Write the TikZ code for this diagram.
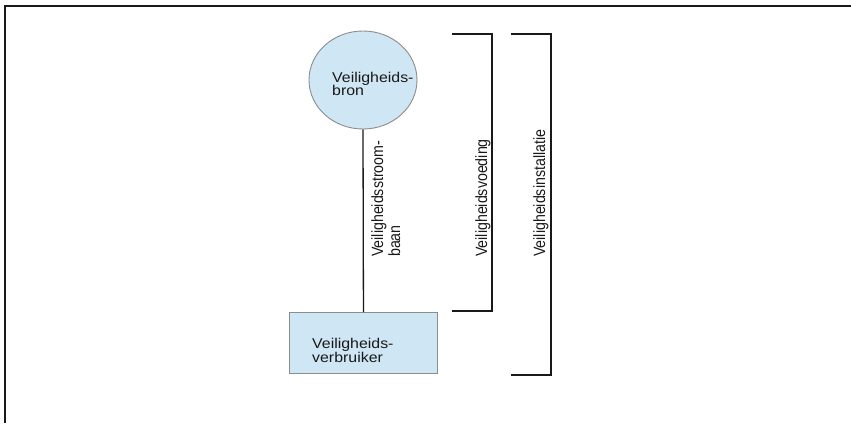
\documentclass[tikz,border=0pt]{standalone}
\usepackage{fontspec}
\setmainfont{Liberation Sans}
\usetikzlibrary{shapes.geometric}
\definecolor{shapefill}{RGB}{207,230,244}
\definecolor{shapeline}{RGB}{140,140,140}
\definecolor{txt}{RGB}{25,25,25}
\tikzset{
  lbl/.style={inner sep=0pt, font=\fontsize{14.2}{14.2}\selectfont, text=txt},
  vlbl/.style={lbl, rotate=90, anchor=base west},
  hlbl/.style={lbl, anchor=base west},
  wire/.style={line width=1.3pt, draw=black!90},
  frame/.style={line width=2pt, draw=black!90},
  blueshape/.style={draw=shapeline, fill=shapefill, line width=0.9pt, inner sep=0pt}
}
\newcommand{\hstretch}[1]{\scalebox{1.12}[1]{#1}}
\newcommand{\vstretch}[1]{\scalebox{1}[1.15]{#1}}
\begin{document}
\begin{tikzpicture}[x=1pt,y=-1pt]
\useasboundingbox (0,0) rectangle (851,423);
% frame
\coordinate (fa) at (4.5,423);
\coordinate (fb) at (4.5,5.5);
\coordinate (fc) at (850.5,5.5);
\draw[frame] (fa) -- (fb) -- (fc);
% source
\node[blueshape, ellipse, minimum width=108pt, minimum height=98pt] (src) at (363,80) {};
\node[hlbl] (srcA) at (332,82) {\hstretch{Veiligheids-}};
\node[hlbl] (srcB) at (332,95) {\hstretch{bron}};
% consumer
\node[blueshape, rectangle, minimum width=148pt, minimum height=61pt, anchor=north west] (cons) at (289,312) {};
\node[hlbl] (consA) at (312,348) {\hstretch{Veiligheids-}};
\node[hlbl] (consB) at (312,362.5) {\hstretch{verbruiker}};
% circuit
\draw[wire] (src.south) -- (cons.north);
\node[vlbl] (circA) at (383,257) {\vstretch{Veiligheidsstroom-}};
\node[vlbl] (circB) at (400,257) {\vstretch{baan}};
% bracket 1
\coordinate (b1a) at (452,34);
\coordinate (b1b) at (492,34);
\coordinate (b1c) at (492,311);
\coordinate (b1d) at (452,311);
\draw[wire] (b1a) -- (b1b) -- (b1c) -- (b1d);
\node[vlbl] (voed) at (487,257) {\vstretch{Veiligheidsvoeding}};
% bracket 2
\coordinate (b2a) at (511,34);
\coordinate (b2b) at (551,34);
\coordinate (b2c) at (551,375);
\coordinate (b2d) at (511,375);
\draw[wire] (b2a) -- (b2b) -- (b2c) -- (b2d);
\node[vlbl] (inst) at (545,257) {\vstretch{Veiligheidsinstallatie}};
\end{tikzpicture}
\end{document}
